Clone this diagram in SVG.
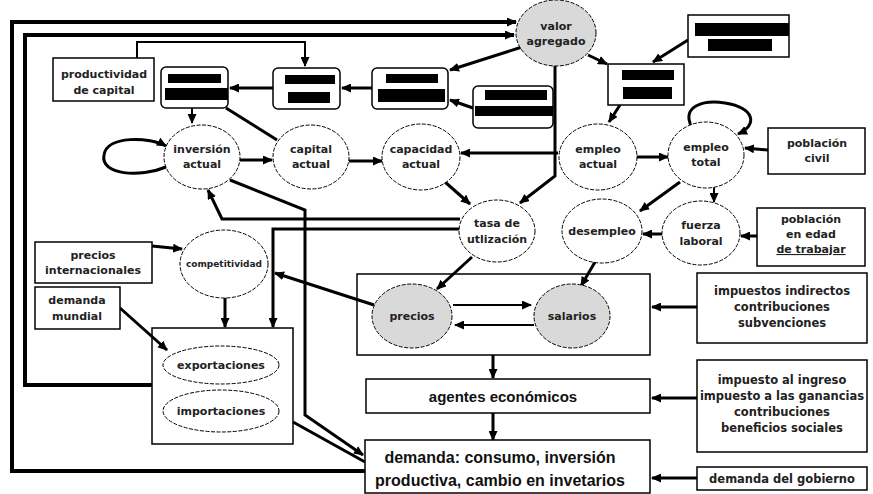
<svg xmlns="http://www.w3.org/2000/svg" width="873" height="494" viewBox="0 0 873 494">
<style>
.c{fill:none;stroke:#000;stroke-width:3}
.c2{stroke-width:2}
.c4{stroke-width:4}
.e{fill:#fff;stroke:#000;stroke-width:1;stroke-dasharray:4 1.5}
.g{fill:#d9d9d9;stroke:#000;stroke-width:1;stroke-dasharray:4 1.5}
.b{fill:#fff;stroke:#000;stroke-width:1.5}
.bar{fill:#000}
.t{font-family:"DejaVu Sans",Verdana,sans-serif;font-weight:bold;font-size:11px;text-anchor:middle;fill:#222}
.r{font-size:11.5px}
.big{font-family:"Liberation Sans",Arial,sans-serif;font-weight:bold;font-size:16px;text-anchor:middle;fill:#111}
</style>
<defs>
<marker id="a" markerUnits="userSpaceOnUse" markerWidth="10" markerHeight="9" refX="9" refY="4.5" orient="auto">
<path d="M0,0 L10,4.5 L0,9 z" fill="#000"/>
</marker>
</defs>
<rect width="873" height="494" fill="#fff"/>

<g id="comercio">
<rect class="b" x="152" y="328" width="141" height="116"/>
</g>
<g id="precios-salarios-box">
<rect class="b" x="357" y="274" width="293" height="81"/>
</g>

<g id="connectors" marker-end="url(#a)">
<path class="c c4" d="M365,471 H12 V22 H516"/>
<path class="c c4" d="M152,385 H25 V35 H514"/>
<path class="c c2" d="M137,58 V42 H305 V66"/>
<path class="c" d="M273,88 H230"/>
<path class="c" d="M372,88 H342"/>
<path class="c" d="M522,47 L450,70"/>
<path class="c" d="M473,108 L450,100"/>
<path class="c" d="M588,55 L607,64"/>
<path class="c" d="M688,40 L653,62"/>
<path class="c" d="M620,105 L609,122"/>
<path class="c c2" d="M192,108 V123"/>
<path class="c" d="M226,108 L277,140" marker-end="none"/>
<path class="c" d="M166,167 C140,178 100,175 104,155 C107,135 150,137 166,146"/>
<path class="c" d="M240,160 H272"/>
<path class="c" d="M349,161 H382"/>
<path class="c" d="M558,153 H461"/>
<path class="c" d="M555,66 V176 L520,203"/>
<path class="c" d="M445,182 L470,204"/>
<path class="c" d="M636,157 H668"/>
<path class="c" d="M692,128 C680,105 705,100 725,103 C755,108 758,125 738,134"/>
<path class="c" d="M768,150 L745,148"/>
<path class="c" d="M680,182 L640,211"/>
<path class="c c2" d="M714,187 V202"/>
<path class="c" d="M662,234 H643"/>
<path class="c" d="M757,236 H741"/>
<path class="c" d="M460,219 H222 L208,190"/>
<path class="c" d="M460,229 H273 V327"/>
<path class="c" d="M230,180 L305,210 V415 L363,455"/>
<path class="c" d="M293,422 L365,462" marker-end="none"/>
<path class="c" d="M374,305 L275,273"/>
<path class="c" d="M152,246 L182,249"/>
<path class="c" d="M225,297 V327"/>
<path class="c" d="M120,308 L167,350"/>
<path class="c" d="M472,257 L437,289"/>
<path class="c" d="M595,262 L581,286"/>
<path class="c c2" d="M453,305 H531"/>
<path class="c c2" d="M534,325 H455"/>
<path class="c" d="M697,307 H652"/>
<path class="c" d="M493,355 V378"/>
<path class="c" d="M697,398 H652"/>
<path class="c" d="M493,413 V440"/>
<path class="c" d="M697,478 H652"/>
</g>

<g id="productividad">
<rect class="b" x="53" y="58" width="101" height="43"/>
<text class="t" x="104" y="78">productividad</text>
<text class="t" x="104" y="94">de capital</text>
</g>
<g id="box1">
<rect class="b" x="161" y="67" width="67" height="41" rx="5"/>
<rect class="bar" x="168" y="74" width="53" height="9"/>
<rect class="bar" x="165" y="88" width="63" height="12"/>
</g>
<g id="box2">
<rect class="b" x="273" y="68" width="67" height="41" rx="5"/>
<rect class="bar" x="285" y="75" width="50" height="9"/>
<rect class="bar" x="288" y="92" width="42" height="11"/>
</g>
<g id="box3">
<rect class="b" x="372" y="68" width="76" height="41" rx="5"/>
<rect class="bar" x="386" y="74" width="52" height="9"/>
<rect class="bar" x="378" y="89" width="67" height="13"/>
</g>
<g id="box4">
<rect class="b" x="473" y="86" width="80" height="42" rx="5"/>
<rect class="bar" x="485" y="90" width="62" height="10"/>
<rect class="bar" x="475" y="106" width="78" height="10"/>
</g>
<g id="valor">
<ellipse class="g" cx="556" cy="33" rx="40" ry="33"/>
<text class="t" x="556" y="30">valor</text>
<text class="t" x="556" y="45">agregado</text>
</g>
<g id="box5">
<rect class="b" x="608" y="64" width="76" height="41"/>
<rect class="bar" x="622" y="70" width="52" height="10"/>
<rect class="bar" x="623" y="87" width="49" height="12"/>
</g>
<g id="box6">
<rect class="b" x="688" y="15" width="101" height="42"/>
<rect class="bar" x="695" y="23" width="94" height="13"/>
<rect class="bar" x="708" y="39" width="64" height="12"/>
</g>
<g id="inversion">
<ellipse class="e" cx="202" cy="157" rx="38" ry="32"/>
<text class="t" x="202" y="153">inversión</text>
<text class="t" x="202" y="168">actual</text>
</g>
<g id="capital">
<ellipse class="e" cx="311" cy="157" rx="38" ry="32"/>
<text class="t" x="311" y="153">capital</text>
<text class="t" x="311" y="168">actual</text>
</g>
<g id="capacidad">
<ellipse class="e" cx="421" cy="157" rx="39" ry="33"/>
<text class="t" x="421" y="153">capacidad</text>
<text class="t" x="421" y="168">actual</text>
</g>
<g id="empleo-actual">
<ellipse class="e" cx="598" cy="157" rx="39" ry="33"/>
<text class="t" x="598" y="153">empleo</text>
<text class="t" x="598" y="168">actual</text>
</g>
<g id="empleo-total">
<ellipse class="e" cx="706" cy="155" rx="38" ry="33"/>
<text class="t" x="706" y="151">empleo</text>
<text class="t" x="706" y="166">total</text>
</g>
<g id="poblacion-civil">
<rect class="b" x="768" y="128" width="97" height="46"/>
<text class="t" x="817" y="147">población</text>
<text class="t" x="817" y="162">civil</text>
</g>
<g id="tasa">
<ellipse class="e" cx="497" cy="231" rx="38" ry="31"/>
<text class="t" x="497" y="227">tasa de</text>
<text class="t" x="497" y="243">utlización</text>
</g>
<g id="desempleo">
<ellipse class="e" cx="602" cy="231" rx="40" ry="32"/>
<text class="t" x="602" y="235">desempleo</text>
</g>
<g id="fuerza">
<ellipse class="e" cx="701" cy="233" rx="39" ry="32"/>
<text class="t" x="701" y="229">fuerza</text>
<text class="t" x="701" y="245">laboral</text>
</g>
<g id="poblacion-edad">
<rect class="b" x="757" y="208" width="108" height="58"/>
<text class="t" x="811" y="223">población</text>
<text class="t" x="811" y="238">en edad</text>
<text class="t" x="811" y="253" text-decoration="underline">de trabajar</text>
</g>
<g id="precios-int">
<rect class="b" x="35" y="242" width="117" height="41"/>
<text class="t" x="93" y="259">precios</text>
<text class="t" x="93" y="274">internacionales</text>
</g>
<g id="demanda-mundial">
<rect class="b" x="35" y="287" width="85" height="42"/>
<text class="t" x="77" y="304">demanda</text>
<text class="t" x="77" y="320">mundial</text>
</g>
<g id="competitividad">
<ellipse class="e" cx="224" cy="264" rx="44" ry="34"/>
<text class="t" x="224" y="267" style="font-size:9px">competitividad</text>
</g>
<g id="exportaciones">
<ellipse class="e" cx="221" cy="365" rx="58" ry="19"/>
<text class="t" x="221" y="369">exportaciones</text>
</g>
<g id="importaciones">
<ellipse class="e" cx="221" cy="411" rx="58" ry="21"/>
<text class="t" x="221" y="415">importaciones</text>
</g>
<g id="precios">
<ellipse class="g" cx="412" cy="316" rx="40" ry="32"/>
<text class="t" x="412" y="320">precios</text>
</g>
<g id="salarios">
<ellipse class="g" cx="572" cy="316" rx="38" ry="32"/>
<text class="t" x="572" y="320">salarios</text>
</g>
<g id="impuestos-indirectos">
<rect class="b" x="697" y="273" width="170" height="70"/>
<text class="t r" x="782" y="295">impuestos indirectos</text>
<text class="t r" x="782" y="311">contribuciones</text>
<text class="t r" x="782" y="327">subvenciones</text>
</g>
<g id="agentes">
<rect class="b" x="366" y="379" width="284" height="34"/>
<text class="big" x="503" y="402" style="font-size:15px">agentes económicos</text>
</g>
<g id="impuesto-ingreso">
<rect class="b" x="697" y="360" width="170" height="92"/>
<text class="t r" x="782" y="384">impuesto al ingreso</text>
<text class="t r" x="782" y="400">impuesto a las ganancias</text>
<text class="t r" x="782" y="416">contribuciones</text>
<text class="t r" x="782" y="432">beneficios sociales</text>
</g>
<g id="demanda">
<rect class="b" x="365" y="440" width="285" height="53"/>
<text class="big" x="500" y="463">demanda: consumo, inversión</text>
<text class="big" x="500" y="486">productiva, cambio en invetarios</text>
</g>
<g id="gobierno">
<rect class="b" x="697" y="467" width="170" height="23"/>
<text class="t r" x="782" y="483">demanda del gobierno</text>
</g>
</svg>
